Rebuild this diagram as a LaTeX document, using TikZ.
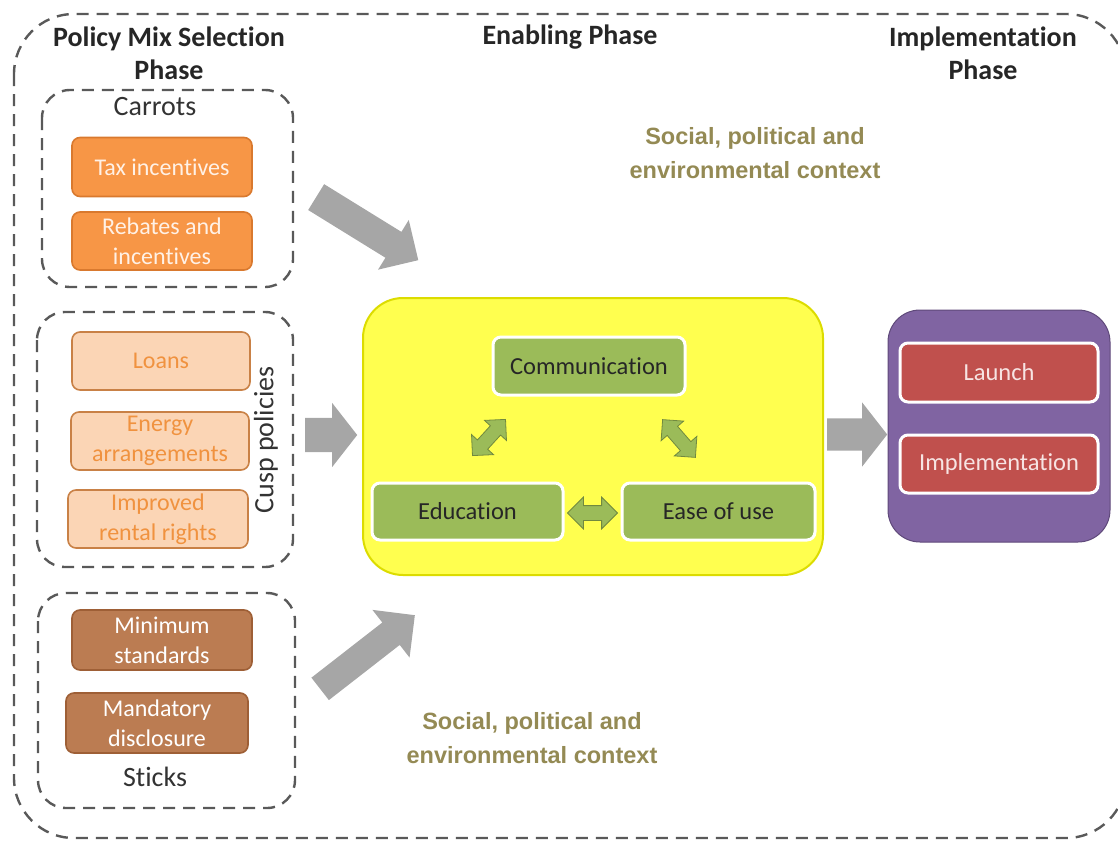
\documentclass[tikz,border=0pt]{standalone}
\usepackage{fontspec}
\setmainfont{Carlito}[Ligatures=NoCommon]
\newfontfamily\ctxfont{Liberation Sans}
\usetikzlibrary{shapes.arrows}

\definecolor{dashgray}{HTML}{595959}
\definecolor{carrot}{HTML}{F79646}
\definecolor{carrotline}{HTML}{D9792E}
\definecolor{carrottext}{HTML}{FFF1E6}
\definecolor{cusp}{HTML}{FBD5B5}
\definecolor{cuspline}{HTML}{C98146}
\definecolor{cusptext}{HTML}{F0923F}
\definecolor{stick}{HTML}{BB7C52}
\definecolor{stickline}{HTML}{9E5F36}
\definecolor{enable}{HTML}{FFFF4F}
\definecolor{enableline}{HTML}{DCDC00}
\definecolor{leaf}{HTML}{9BBB59}
\definecolor{leafline}{HTML}{71893F}
\definecolor{plum}{HTML}{8064A2}
\definecolor{plumline}{HTML}{5F497A}
\definecolor{brick}{HTML}{C0504D}
\definecolor{bricktext}{HTML}{F7E4E3}
\definecolor{olive}{HTML}{948A54}
\definecolor{arrowgray}{HTML}{A6A6A6}

\tikzset{
  groupline/.style={draw=dashgray, line width=2.4pt, dash pattern=on 12pt off 8pt},
  phase/.style={font=\fontsize{28}{33}\selectfont\bfseries, text=black!85, align=center, inner sep=0pt},
  grouplabel/.style={font=\fontsize{28}{30}\selectfont, text=black!80, inner sep=0pt},
  policy/.style={rounded corners=8pt, line width=1.6pt, align=center, inner sep=0pt,
    font=\fontsize{24}{30}\selectfont},
  carrotbox/.style={policy, fill=carrot, draw=carrotline, text=carrottext},
  cuspbox/.style={policy, fill=cusp, draw=cuspline, text=cusptext},
  stickbox/.style={policy, fill=stick, draw=stickline, text=white},
  leafbox/.style={rounded corners=8pt, fill=leaf, draw=white, line width=3pt, inner sep=0pt,
    text=black!85, font=\fontsize{24.5}{28}\selectfont},
  brickbox/.style={rounded corners=8pt, fill=brick, draw=white, line width=3pt, inner sep=0pt,
    text=bricktext, font=\fontsize{24.5}{28}\selectfont},
  context/.style={font=\ctxfont\fontsize{23.5}{34}\selectfont\bfseries, text=olive, align=center, inner sep=0pt},
  bigarrow/.style 2 args={single arrow, fill=arrowgray, draw=none, anchor=tail,
    inner xsep=0pt, inner ysep=#1/2, single arrow head extend=(#2-#1)/2},
  linkarrow/.style 2 args={double arrow, fill=leaf, draw=leafline, line width=0.8pt,
    inner xsep=0pt, inner ysep=#1/2, double arrow head extend=(#2-#1)/2}
}

\begin{document}
\begin{tikzpicture}[x=1pt, y=-1pt]
\useasboundingbox (0,0) rectangle (1118,843);

% outer frame around the three phases
\draw[groupline, rounded corners=60pt] (14,14) rectangle (1126,838);

% phase headings
\node[phase] (selphase) at (169,53) {Policy Mix Selection\\Phase};
\node[phase] (enphase) at (570,37) {Enabling Phase};
\node[phase] (imphase) at (983,53) {Implementation\\Phase};

% policy groups
\draw[groupline, rounded corners=28pt] (42,90) rectangle (293,287);
\draw[groupline, rounded corners=28pt] (37,312) rectangle (293,567);
\draw[groupline, rounded corners=28pt] (38,593) rectangle (295,808);

\node[grouplabel] (carrots) at (155,107) {Carrots};
\node[grouplabel, rotate=90] (cusplabel) at (266,440) {Cusp policies};
\node[grouplabel] (sticks) at (155,777) {Sticks};

\node[carrotbox, minimum width=180pt, minimum height=59pt] (tax) at (162,167) {Tax incentives};
\node[carrotbox, minimum width=180pt, minimum height=58pt] (rebates) at (162,241) {Rebates and\\incentives};

\node[cuspbox, minimum width=178pt, minimum height=58pt] (loans) at (161,361) {Loans};
\node[cuspbox, minimum width=178pt, minimum height=58pt] (energy) at (160,441) {Energy\\arrangements};
\node[cuspbox, minimum width=180pt, minimum height=58pt] (rental) at (158,519) {Improved\\rental rights};

\node[stickbox, minimum width=180pt, minimum height=60pt] (minstd) at (162,640) {Minimum\\standards};
\node[stickbox, minimum width=182pt, minimum height=60pt] (disclose) at (157,723) {Mandatory\\disclosure};

% enabling phase
\node[rounded corners=40pt, fill=enable, draw=enableline, line width=2pt,
      minimum width=460pt, minimum height=277pt] (enabling) at (593,436.5) {};
\node[leafbox, minimum width=192pt, minimum height=58pt] (comm) at (589,366) {Communication};
\node[leafbox, minimum width=191pt, minimum height=57pt] (edu) at (467.5,511.5) {Education};
\node[leafbox, minimum width=193pt, minimum height=57pt] (ease) at (718.5,511.5) {Ease of use};

\node[linkarrow={13pt}{29pt}, minimum height=49pt, rotate=47.6] (edu-comm) at (489,437.5) {};
\node[linkarrow={13pt}{29pt}, minimum height=50pt, rotate=-49] (comm-ease) at (679,438.5) {};
\node[linkarrow={14pt}{31pt}, minimum height=50pt] (edu-ease) at (592.5,513) {};

% implementation phase
\node[rounded corners=32pt, fill=plum, draw=plumline, line width=1pt,
      minimum width=222pt, minimum height=232pt] (implementing) at (999,426) {};
\node[brickbox, minimum width=198pt, minimum height=59pt] (launch) at (999,372.5) {Launch};
\node[brickbox, minimum width=198pt, minimum height=58pt] (implement) at (999,464) {Implementation};

% flow between phases
\node[bigarrow={30pt}{58pt}, minimum height=120pt, rotate=-31.7] (carrotflow) at (316,197) {};
\node[bigarrow={34pt}{64pt}, minimum height=52pt, single arrow tip angle=104] (cuspflow) at (305,435) {};
\node[bigarrow={28pt}{60pt}, minimum height=120pt, rotate=37.9] (stickflow) at (320,689) {};
\node[bigarrow={32pt}{64pt}, minimum height=60pt, single arrow tip angle=104] (enableflow) at (827,434.5) {};

% context notes
\node[context] (ctxtop) at (755,153) {Social, political and\\environmental context};
\node[context] (ctxbottom) at (532,738) {Social, political and\\environmental context};
\end{tikzpicture}
\end{document}
